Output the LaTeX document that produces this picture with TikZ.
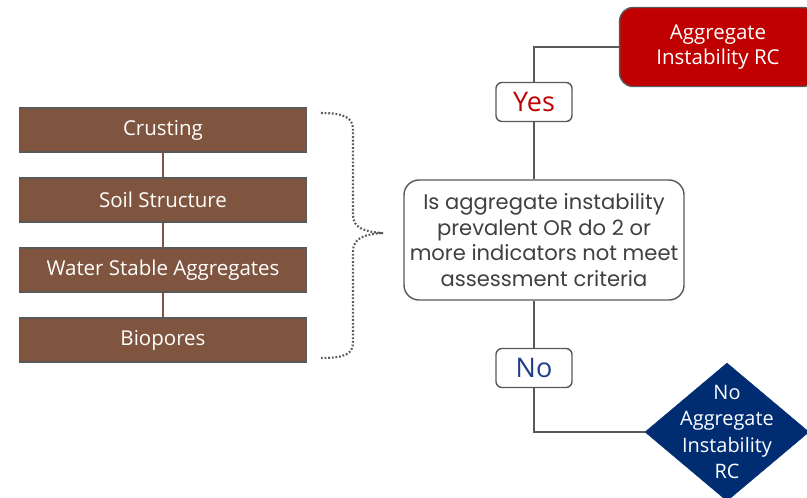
\documentclass[tikz,border=0pt]{standalone}
\usepackage{fontspec}
\setmainfont{Open Sans}
\newfontfamily\askfont{Poppins}
\usetikzlibrary{arrows.meta, positioning, shapes.geometric}
\definecolor{soilBrown}{HTML}{7F5540}
\definecolor{edgeGray}{HTML}{595959}
\definecolor{rcRed}{HTML}{C00000}
\definecolor{rcNavy}{HTML}{002D72}
\definecolor{noBlue}{HTML}{1F3C88}
\definecolor{askText}{HTML}{404040}
\tikzset{
  soilBox/.style={rectangle, draw=edgeGray, line width=1.4pt, fill=soilBrown,
                  text=white, minimum width=8.6cm, minimum height=1.32cm,
                  inner sep=0pt, font=\fontsize{17.5}{20}\selectfont},
  soilLink/.style={soilBrown, line width=1.4pt},
  askBox/.style={rectangle, rounded corners=0.45cm, draw=edgeGray, line width=1.2pt,
                 fill=white, text=askText, align=center, minimum width=8.4cm,
                 minimum height=3.6cm, inner sep=0pt,
                 font=\askfont\fontsize{18}{21.9}\selectfont},
  tagBox/.style={rectangle, rounded corners=0.18cm, draw=edgeGray, line width=1.2pt,
                 fill=white, minimum width=2.28cm, minimum height=1.17cm,
                 inner sep=0pt, font=\fontsize{23}{25}\selectfont},
  rcBox/.style={rectangle, rounded corners=0.4cm, draw=edgeGray, line width=1.2pt,
                fill=rcRed, text=white, align=center, minimum width=5.9cm,
                minimum height=2.37cm, inner sep=0pt, font=\fontsize{17.5}{22}\selectfont},
  rcDiamond/.style={diamond, draw=rcNavy, fill=rcNavy, minimum width=4.92cm,
                    minimum height=4.14cm, inner sep=0pt},
  flowLine/.style={edgeGray, line width=1.2pt},
  braceLine/.style={edgeGray, line width=1.8pt, dash pattern=on 1.5pt off 1.6pt},
}
\begin{document}
\begin{tikzpicture}[x=0.03cm, y=-0.03cm]
  \useasboundingbox (0,0) rectangle (807,497);
  \clip (0,0) rectangle (807,497);

  % indicators
  \node[soilBox] (crust) at (163,130) {Crusting};
  \node[soilBox] (struct) at (163,200) {Soil Structure};
  \node[soilBox] (water) at (163,270) {Water Stable Aggregates};
  \node[soilBox] (bio) at (163,340) {Biopores};
  \draw[soilLink] (crust) -- (struct);
  \draw[soilLink] (struct) -- (water);
  \draw[soilLink] (water) -- (bio);

  % dotted brace
  \coordinate (braceTop) at (321,113);
  \coordinate (braceTip) at (383,233);
  \coordinate (braceEnd) at (321,358);
  \draw[braceLine] (braceTop) .. controls (345,113) and (353,118) .. (353,130)
    -- (353,215) .. controls (353,228) and (365,232) .. (braceTip)
    .. controls (365,234) and (353,238) .. (353,251)
    -- (353,342) .. controls (353,354) and (345,358) .. (braceEnd);

  % decision
  \node[askBox] (ask) at (544,240)
    {Is aggregate instability\\prevalent OR do 2 or\\more indicators not meet\\assessment criteria};
  \node[tagBox, text=rcRed] (yes) at (534,102) {Yes};
  \node[tagBox, text=noBlue] (no) at (534,368) {No};
  \node[rcBox] (aggRC) at (718,47) {Aggregate\\Instability RC};
  \node[rcDiamond] (noRC) at (727,432) {};
  \node[text=white, align=center, font=\fontsize{17}{22.5}\selectfont] (noRCText) at (noRC)
    {No\\Aggregate\\Instability\\RC};

  \draw[flowLine] (ask.north -| yes) -- (yes);
  \draw[flowLine] (yes.north) |- (aggRC.west);
  \draw[flowLine] (ask.south -| no) -- (no);
  \draw[flowLine] (no.south) |- (noRC.west);
\end{tikzpicture}
\end{document}
